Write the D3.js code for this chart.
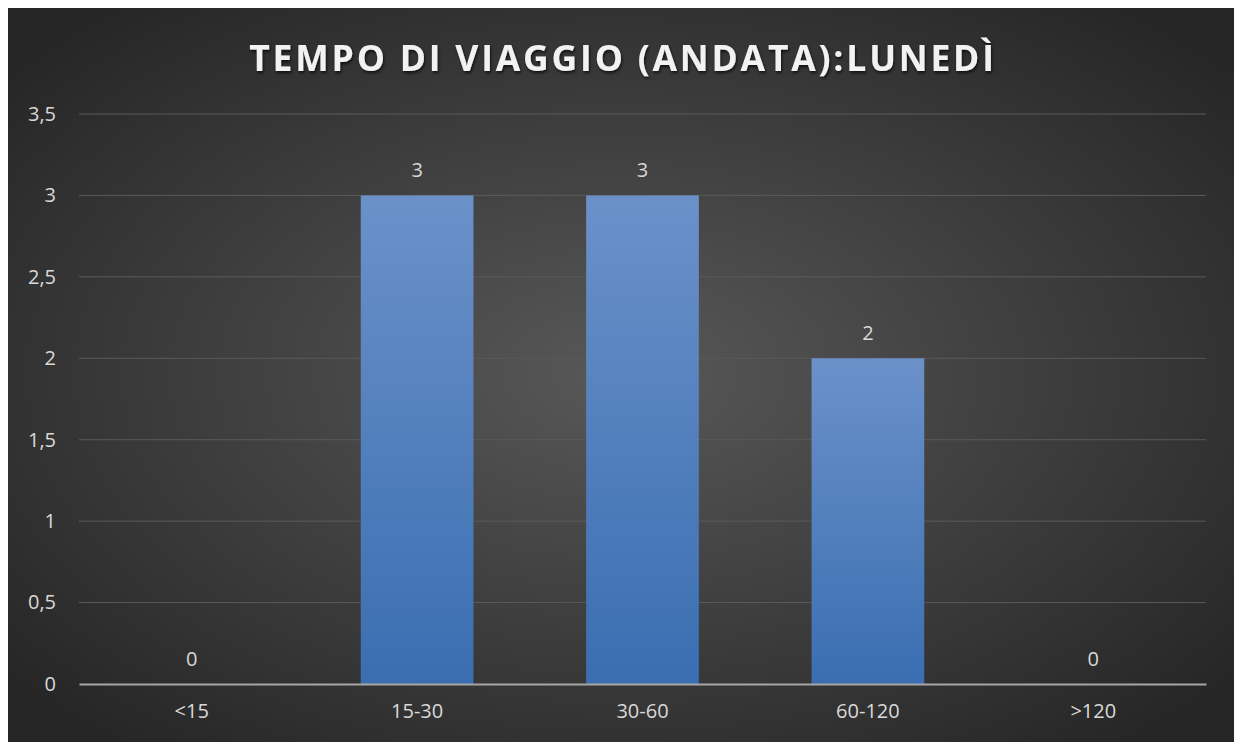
<!DOCTYPE html>
<html>
<head>
<meta charset="utf-8">
<script src="https://cdn.jsdelivr.net/npm/d3@7"></script>
<style>
  body { margin: 0; background: #fff; }
  svg { display: block; }
</style>
</head>
<body>
<script>
var categories = ["<15", "15-30", "30-60", "60-120", ">120"];
var values = [0, 3, 3, 2, 0];
var yTicks = [0, 0.5, 1, 1.5, 2, 2.5, 3, 3.5];
var title = "TEMPO DI VIAGGIO (ANDATA):LUNEDÌ";

var width = 1234, height = 742;
var margin = { top: 114, right: 28, bottom: 58, left: 79 };
var fontSize = "20px";

var svg = d3.select("body").append("svg")
    .attr("width", width)
    .attr("height", height);

var defs = svg.append("defs");
var bg = defs.append("radialGradient").attr("id", "bg")
    .attr("cx", "50%").attr("cy", "50%").attr("r", "65%");
bg.append("stop").attr("offset", "0%").attr("stop-color", "#585858");
bg.append("stop").attr("offset", "100%").attr("stop-color", "#262626");

var barGrad = defs.append("linearGradient").attr("id", "bar")
    .attr("x1", 0).attr("y1", 0).attr("x2", 0).attr("y2", 1);
barGrad.append("stop").attr("offset", "0%").attr("stop-color", "#6b91c9");
barGrad.append("stop").attr("offset", "100%").attr("stop-color", "#3a6eb1");

var shadow = defs.append("filter").attr("id", "shadow")
    .attr("x", "-10%").attr("y", "-30%").attr("width", "120%").attr("height", "160%");
shadow.append("feDropShadow").attr("dx", 1).attr("dy", 2).attr("stdDeviation", 1.5)
    .attr("flood-color", "#000").attr("flood-opacity", 0.7);

svg.append("rect")
    .attr("x", 8).attr("y", 8)
    .attr("width", width - 8).attr("height", height - 8)
    .attr("fill", "url(#bg)");

var x = d3.scaleBand()
    .domain(categories)
    .range([margin.left, width - margin.right])
    .paddingInner(0.5)
    .paddingOuter(0.25);

var y = d3.scaleLinear()
    .domain([0, 3.5])
    .range([height - margin.bottom, margin.top]);

var fmt = function(d) { return String(d).replace(".", ","); };

// gridlines
svg.append("g")
    .selectAll("line")
    .data(yTicks.filter(function(d) { return d > 0; }))
    .enter().append("line")
    .attr("x1", margin.left).attr("x2", width - margin.right)
    .attr("y1", function(d) { return y(d); })
    .attr("y2", function(d) { return y(d); })
    .attr("stroke", "#5a5a5a")
    .attr("stroke-width", 1);

// y axis labels
var yAxis = d3.axisLeft(y).tickValues(yTicks).tickFormat(fmt).tickSize(0).tickPadding(0);
svg.append("g")
    .attr("transform", "translate(56,0)")
    .call(yAxis)
    .call(function(g) { g.select(".domain").remove(); })
    .selectAll("text")
    .attr("fill", "#d9d9d9")
    .style("font-family", "'Open Sans', sans-serif")
    .style("font-size", fontSize);

// bars
svg.append("g")
    .selectAll("rect")
    .data(values)
    .enter().append("rect")
    .attr("x", function(d, i) { return x(categories[i]); })
    .attr("y", function(d) { return y(d); })
    .attr("width", x.bandwidth())
    .attr("height", function(d) { return y(0) - y(d); })
    .attr("fill", "url(#bar)");

// x axis
var xAxis = d3.axisBottom(x).tickSize(0).tickPadding(20);
var xg = svg.append("g")
    .attr("transform", "translate(0," + y(0) + ")")
    .call(xAxis);
xg.select(".domain").attr("stroke", "#a6a6a6").attr("stroke-width", 2);
xg.selectAll("text")
    .attr("fill", "#d9d9d9")
    .style("font-family", "'Open Sans', sans-serif")
    .style("font-size", fontSize);

// data labels
svg.append("g")
    .selectAll("text")
    .data(values)
    .enter().append("text")
    .attr("x", function(d, i) { return x(categories[i]) + x.bandwidth() / 2; })
    .attr("y", function(d) { return y(d) - 18; })
    .attr("text-anchor", "middle")
    .attr("fill", "#d9d9d9")
    .style("font-family", "'Open Sans', sans-serif")
    .style("font-size", fontSize)
    .text(function(d) { return d; });

// title
svg.append("text")
    .attr("x", 623)
    .attr("y", 71)
    .attr("text-anchor", "middle")
    .attr("fill", "#f2f2f2")
    .attr("filter", "url(#shadow)")
    .style("font-family", "'Open Sans', sans-serif")
    .style("font-weight", "bold")
    .style("font-size", "35.5px")
    .style("letter-spacing", "2.8px")
    .text(title);
</script>
</body>
</html>
